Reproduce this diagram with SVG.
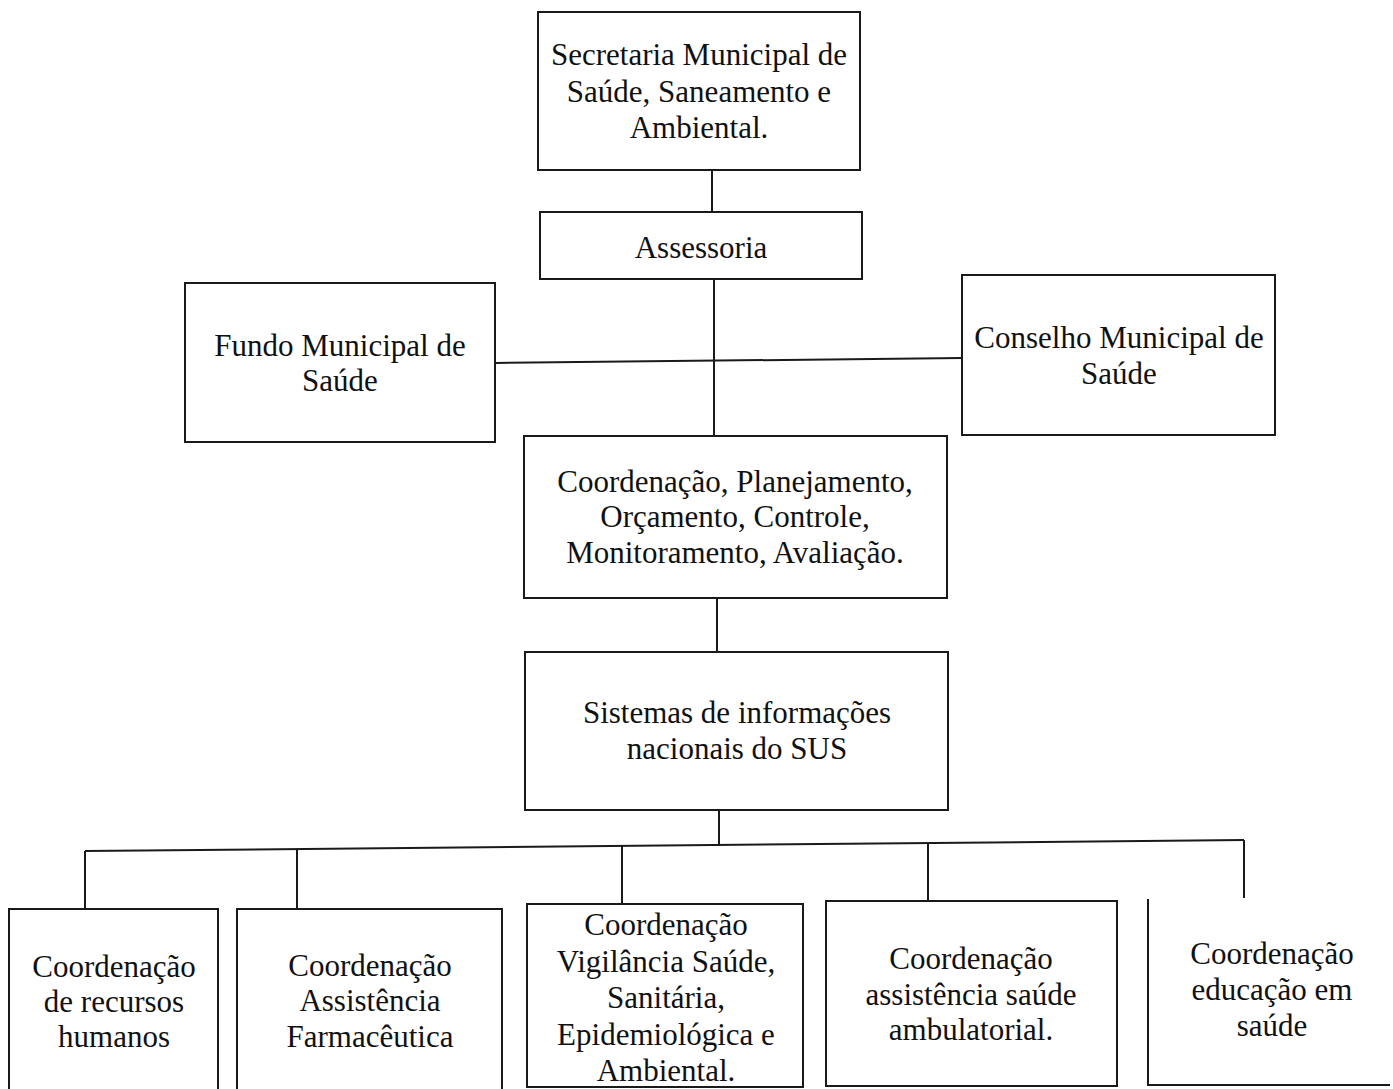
<svg xmlns="http://www.w3.org/2000/svg" width="1393" height="1089" viewBox="0 0 1393 1089">
<style>
.box{fill:none;stroke:#1a1a1a;stroke-width:2}
.edge{fill:none;stroke:#1a1a1a;stroke-width:2}
.t{font-family:"Liberation Serif","Times New Roman",serif;font-size:31px;fill:#111;text-anchor:middle}
</style>
<rect width="1393" height="1089" fill="#ffffff"/>
<g id="connectors">
<line class="edge" x1="712" y1="170" x2="712" y2="212"/>
<line class="edge" x1="714" y1="279" x2="714" y2="436"/>
<line class="edge" x1="495" y1="363" x2="962" y2="358"/>
<line class="edge" x1="717" y1="598" x2="717" y2="652"/>
<line class="edge" x1="719" y1="810" x2="719" y2="846"/>
<line class="edge" x1="85" y1="851" x2="1244" y2="840"/>
<line class="edge" x1="85" y1="851" x2="85" y2="909"/>
<line class="edge" x1="297" y1="849" x2="297" y2="909"/>
<line class="edge" x1="622" y1="846" x2="622" y2="904"/>
<line class="edge" x1="928" y1="843" x2="928" y2="901"/>
<line class="edge" x1="1244" y1="840" x2="1244" y2="898"/>
</g>
<g id="secretaria">
<rect class="box" x="538" y="12" width="322" height="158"/>
<text class="t" x="699" y="65">Secretaria Municipal de</text>
<text class="t" x="699" y="102">Saúde, Saneamento e</text>
<text class="t" x="699" y="138">Ambiental.</text>
</g>
<g id="assessoria">
<rect class="box" x="540" y="212" width="322" height="67"/>
<text class="t" x="701" y="258">Assessoria</text>
</g>
<g id="fundo">
<rect class="box" x="185" y="283" width="310" height="159"/>
<text class="t" x="340" y="356">Fundo Municipal de</text>
<text class="t" x="340" y="391">Saúde</text>
</g>
<g id="conselho">
<rect class="box" x="962" y="275" width="313" height="160"/>
<text class="t" x="1119" y="348">Conselho Municipal de</text>
<text class="t" x="1119" y="384">Saúde</text>
</g>
<g id="coordenacao-planejamento">
<rect class="box" x="524" y="436" width="423" height="162"/>
<text class="t" x="735" y="492">Coordenação, Planejamento,</text>
<text class="t" x="735" y="527">Orçamento, Controle,</text>
<text class="t" x="735" y="563">Monitoramento, Avaliação.</text>
</g>
<g id="sistemas">
<rect class="box" x="525" y="652" width="423" height="158"/>
<text class="t" x="737" y="723">Sistemas de informações</text>
<text class="t" x="737" y="759">nacionais do SUS</text>
</g>
<g id="recursos-humanos">
<path class="box" d="M9,1089 V909 H218 V1089"/>
<text class="t" x="114" y="977">Coordenação</text>
<text class="t" x="114" y="1012">de recursos</text>
<text class="t" x="114" y="1047">humanos</text>
</g>
<g id="assistencia-farmaceutica">
<path class="box" d="M237,1089 V909 H502 V1089"/>
<text class="t" x="370" y="976">Coordenação</text>
<text class="t" x="370" y="1011">Assistência</text>
<text class="t" x="370" y="1047">Farmacêutica</text>
</g>
<g id="vigilancia">
<rect class="box" x="527" y="904" width="276" height="183"/>
<text class="t" x="666" y="935">Coordenação</text>
<text class="t" x="666" y="972">Vigilância Saúde,</text>
<text class="t" x="666" y="1008">Sanitária,</text>
<text class="t" x="666" y="1045">Epidemiológica e</text>
<text class="t" x="666" y="1081">Ambiental.</text>
</g>
<g id="ambulatorial">
<rect class="box" x="826" y="901" width="291" height="185"/>
<text class="t" x="971" y="969">Coordenação</text>
<text class="t" x="971" y="1005">assistência saúde</text>
<text class="t" x="971" y="1040">ambulatorial.</text>
</g>
<g id="educacao">
<path class="box" d="M1148,899 V1085 H1390"/>
<text class="t" x="1272" y="964">Coordenação</text>
<text class="t" x="1272" y="1000">educação em</text>
<text class="t" x="1272" y="1036">saúde</text>
</g>
</svg>
